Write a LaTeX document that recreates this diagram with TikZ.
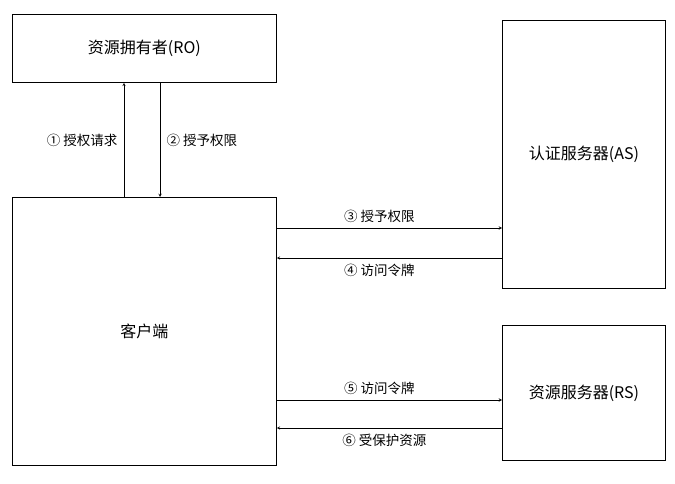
\documentclass[tikz,border=0pt]{standalone}
\usepackage{fontspec}
\setmainfont{Noto Sans CJK SC}
\begin{document}
\begin{tikzpicture}[x=1pt,y=-1pt,
 box/.style={draw,line width=0.8pt,inner sep=0pt,anchor=north west,font=\fontsize{16}{18}\selectfont},
 arr/.style={-stealth,line width=0.5pt},
 lab/.style={font=\fontsize{13.5}{15}\selectfont}]
\useasboundingbox (0,0) rectangle (675,484);
\node[box,minimum width=264pt,minimum height=68pt] (ro) at (12,14) {资源拥有者(RO)};
\node[box,minimum width=264pt,minimum height=268pt] (c) at (12,197) {客户端};
\node[box,minimum width=163pt,minimum height=268pt] (as) at (502,20) {认证服务器(AS)};
\node[box,minimum width=163pt,minimum height=135pt] (rs) at (502,325) {资源服务器(RS)};
\coordinate (a1) at (124,0); \coordinate (a2) at (160,0);
\draw[arr] (c.north -| a1) -- (ro.south -| a1) node[lab,midway,left=3pt] {① 授权请求};
\draw[arr] (ro.south -| a2) -- (c.north -| a2) node[lab,midway,right=3pt] {② 授予权限};
\coordinate (y3) at (0,228); \coordinate (y4) at (0,258);
\coordinate (y5) at (0,400); \coordinate (y6) at (0,428);
\draw[arr] (c.east |- y3) -- (as.west |- y3) node[lab,midway,above=2pt,xshift=-10pt] {③ 授予权限};
\draw[arr] (as.west |- y4) -- (c.east |- y4) node[lab,midway,below=2pt,xshift=-10pt] {④ 访问令牌};
\draw[arr] (c.east |- y5) -- (rs.west |- y5) node[lab,midway,above=2pt,xshift=-10pt] {⑤ 访问令牌};
\draw[arr] (rs.west |- y6) -- (c.east |- y6) node[lab,midway,below=2pt,xshift=-5pt] {⑥ 受保护资源};
\end{tikzpicture}
\end{document}
